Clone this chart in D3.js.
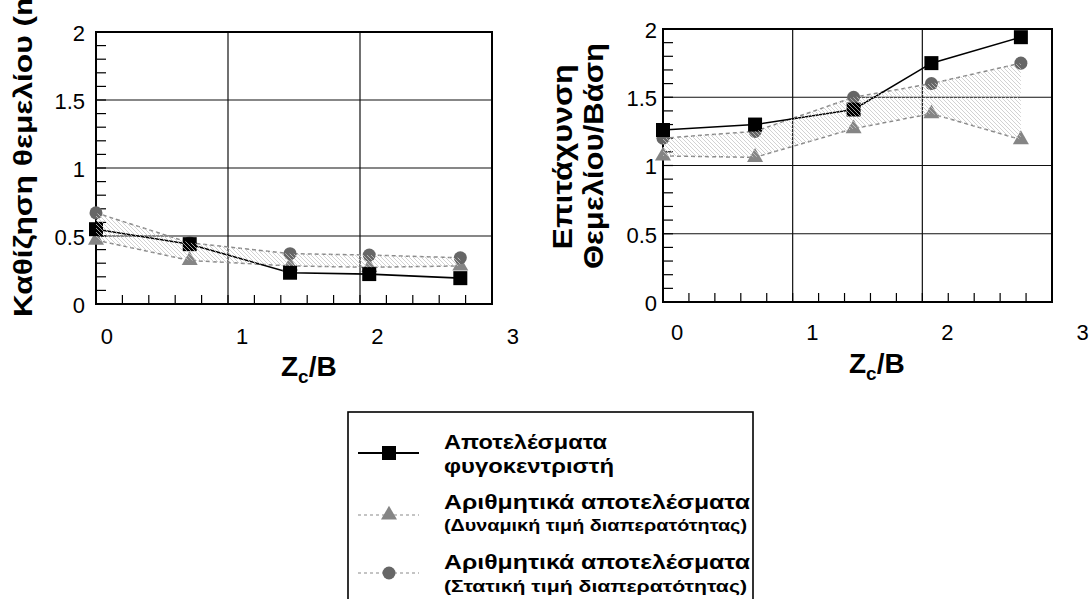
<!DOCTYPE html>
<html>
<head>
<meta charset="utf-8">
<script src="https://cdn.jsdelivr.net/npm/d3@7"></script>
<style>
  html, body { margin: 0; padding: 0; background: #fff; }
  svg { display: block; font-family: "Liberation Sans", Arial, sans-serif; }
</style>
</head>
<body>
<svg id="chart" width="1089" height="599"></svg>
<script>
// Normalised depth Zc/B of each test point
const depthRatio = [0, 0.71, 1.47, 2.07, 2.76];

// Foundation settlement (m)
const settleCentrifuge = [0.55, 0.44, 0.23, 0.22, 0.19];
const settleDynamic    = [0.47, 0.32, 0.28, 0.27, 0.28];
const settleStatic     = [0.67, 0.45, 0.37, 0.36, 0.34];

// Acceleration ratio foundation / base
const accelCentrifuge = [1.26, 1.30, 1.41, 1.75, 1.94];
const accelDynamic    = [1.07, 1.06, 1.27, 1.38, 1.19];
const accelStatic     = [1.20, 1.25, 1.50, 1.60, 1.75];

const xTickLabels = [0, 1, 2, 3];
const yTickLabels = [0, 0.5, 1, 1.5, 2];

const legendEntries = [
  { kind: "centrifuge", lines: ["Αποτελέσματα", "φυγοκεντριστή"] },
  { kind: "dynamic", lines: ["Αριθμητικά αποτελέσματα", "(Δυναμική τιμή διαπερατότητας)"] },
  { kind: "static", lines: ["Αριθμητικά αποτελέσματα", "(Στατική τιμή διαπερατότητας)"] }
];

// legend layout: sample line y, text baselines, font sizes and stretched widths
const legendLayout = [
  { sampleY: 453, base: [449, 473], size: [21, 21], width: [163, 170] },
  { sampleY: 515, base: [509, 531], size: [21, 16], width: [306, 303] },
  { sampleY: 573, base: [569, 592], size: [21, 16], width: [306, 303] }
];

const svg = d3.select("#chart");
const defs = svg.append("defs");

// light diagonal hatching for the band between the two numerical series
const pat = defs.append("pattern")
  .attr("id", "hatch")
  .attr("patternUnits", "userSpaceOnUse")
  .attr("width", 4).attr("height", 4);
pat.append("path")
  .attr("d", "M-1,-1 L5,5 M-1,3 L1,5 M3,-1 L5,1")
  .attr("stroke", "#c6c6c6").attr("stroke-width", 0.8);

const styles = {
  centrifuge: { symbol: d3.symbolSquare, size: 196, fill: "#000", line: "#000", dash: null, width: 1.6 },
  dynamic:    { symbol: d3.symbolTriangle, size: 111, fill: "#858585", line: "#8a8a8a", dash: "4,3", width: 1.5 },
  static:     { symbol: d3.symbolCircle, size: 133, fill: "#666", line: "#8a8a8a", dash: "4,3", width: 1.5 }
};

function drawPanel(cfg) {
  const x = d3.scaleLinear().domain([0, 3]).range([cfg.left, cfg.right]);
  const y = d3.scaleLinear().domain([0, 2]).range([cfg.bottom, cfg.top]);
  const xLab = d3.scaleLinear().domain([0, 3]).range(cfg.xLabelRange);
  const g = svg.append("g");

  // major grid
  g.append("g").selectAll("line").data([1, 2]).join("line")
    .attr("x1", d => x(d)).attr("x2", d => x(d))
    .attr("y1", cfg.top).attr("y2", cfg.bottom)
    .attr("stroke", "#111").attr("stroke-width", 1.2);
  g.append("g").selectAll("line").data([0.5, 1, 1.5]).join("line")
    .attr("x1", cfg.left).attr("x2", cfg.right)
    .attr("y1", d => y(d)).attr("y2", d => y(d))
    .attr("stroke", "#111").attr("stroke-width", 1.2);

  // inner minor ticks
  g.append("g").selectAll("line").data(d3.range(1, 20)).join("line")
    .attr("x1", cfg.left).attr("x2", cfg.left + 10)
    .attr("y1", d => y(d / 10)).attr("y2", d => y(d / 10))
    .attr("stroke", "#000").attr("stroke-width", 1.2);
  g.append("g").selectAll("line").data(d3.range(1, 15)).join("line")
    .attr("x1", d => x(d / 5)).attr("x2", d => x(d / 5))
    .attr("y1", cfg.bottom).attr("y2", cfg.bottom - 9)
    .attr("stroke", "#000").attr("stroke-width", 1.2);

  // frame
  g.append("rect")
    .attr("x", cfg.left).attr("y", cfg.top)
    .attr("width", cfg.right - cfg.left).attr("height", cfg.bottom - cfg.top)
    .attr("fill", "none").attr("stroke", "#000").attr("stroke-width", 2);

  // tick labels
  const yAxis = g.append("g").attr("transform", `translate(${cfg.left},0)`)
    .call(d3.axisLeft(y).tickValues(yTickLabels).tickSize(0).tickPadding(cfg.yPad)
      .tickFormat(d3.format("~g")));
  yAxis.select(".domain").remove();
  yAxis.selectAll("text").attr("font-size", 22).attr("fill", "#000")
    .attr("font-family", "Liberation Sans, Arial, sans-serif").attr("dy", "0.38em");

  const xAxis = g.append("g").attr("transform", `translate(0,${cfg.xLabelY})`)
    .call(d3.axisBottom(xLab).tickValues(xTickLabels).tickSize(0).tickPadding(0)
      .tickFormat(d3.format("d")));
  xAxis.select(".domain").remove();
  xAxis.selectAll("text").attr("font-size", 22).attr("fill", "#000")
    .attr("font-family", "Liberation Sans, Arial, sans-serif").attr("dy", 0).attr("y", 0);

  const pts = (vals) => depthRatio.map((d, i) => [d, vals[i]]);
  const line = d3.line().x(d => x(d[0])).y(d => y(d[1]));
  const series = [["dynamic", cfg.dynamic], ["static", cfg.static], ["centrifuge", cfg.centrifuge]];

  // connecting lines
  series.forEach(([k, vals]) => {
    const s = styles[k];
    g.append("path").datum(pts(vals))
      .attr("d", line).attr("fill", "none")
      .attr("stroke", s.line).attr("stroke-width", s.width)
      .attr("stroke-dasharray", s.dash);
  });

  // markers
  series.forEach(([k, vals]) => {
    const s = styles[k];
    g.append("g").selectAll("path").data(pts(vals)).join("path")
      .attr("transform", d => `translate(${x(d[0])},${y(d[1])})`)
      .attr("d", d3.symbol().type(s.symbol).size(s.size)())
      .attr("fill", s.fill);
  });

  // hatched band between dynamic and static numerical results
  const band = d3.area()
    .x(d => x(d.x)).y0(d => y(d.lo)).y1(d => y(d.hi));
  g.append("path")
    .datum(depthRatio.map((d, i) => ({ x: d, lo: cfg.dynamic[i], hi: cfg.static[i] })))
    .attr("d", band).attr("fill", "url(#hatch)");

  // x title Zc/B
  const t = g.append("text")
    .attr("x", cfg.xTitle[0]).attr("y", cfg.xTitle[1])
    .attr("font-size", 28).attr("font-weight", "bold").attr("fill", "#000");
  t.append("tspan").text("Z");
  t.append("tspan").attr("font-size", 19).attr("dy", 7).text("c");
  t.append("tspan").attr("dy", -7).text("/B");

  return g;
}

drawPanel({
  left: 96, right: 492, top: 32, bottom: 304,
  xLabelRange: [106.3, 512.3], xLabelY: 344, yPad: 11,
  centrifuge: settleCentrifuge, dynamic: settleDynamic, static: settleStatic,
  xTitle: [281, 376]
});

drawPanel({
  left: 663, right: 1052, top: 29, bottom: 302,
  xLabelRange: [676.7, 1082], xLabelY: 340, yPad: 6,
  centrifuge: accelCentrifuge, dynamic: accelDynamic, static: accelStatic,
  xTitle: [849, 373]
});

// y titles (Greek text set slightly wide)
svg.append("text")
  .attr("transform", "translate(32,317) rotate(-90) scale(1.22,1)")
  .attr("text-anchor", "start")
  .attr("font-size", 26).attr("font-weight", "bold").attr("fill", "#000")
  .text("Καθίζηση θεμελίου (m)");

svg.append("text")
  .attr("transform", "translate(572,157) rotate(-90) scale(1.15,1)")
  .attr("text-anchor", "middle")
  .attr("font-size", 28).attr("font-weight", "bold").attr("fill", "#000")
  .text("Επιτάχυνση");
svg.append("text")
  .attr("transform", "translate(603,156) rotate(-90) scale(1.11,1)")
  .attr("text-anchor", "middle")
  .attr("font-size", 28).attr("font-weight", "bold").attr("fill", "#000")
  .text("Θεμελίου/Βάση");

// legend
const lg = svg.append("g");
lg.append("rect")
  .attr("x", 348).attr("y", 412).attr("width", 405).attr("height", 220)
  .attr("fill", "#fff").attr("stroke", "#000").attr("stroke-width", 1.6);

legendEntries.forEach((e, i) => {
  const s = styles[e.kind];
  const r = legendLayout[i];
  lg.append("line")
    .attr("x1", 358).attr("x2", 419).attr("y1", r.sampleY).attr("y2", r.sampleY)
    .attr("stroke", s.line).attr("stroke-width", e.kind === "centrifuge" ? 1.8 : 1.2)
    .attr("stroke-dasharray", e.kind === "centrifuge" ? null : "3,3");
  lg.append("path")
    .attr("transform", `translate(389,${r.sampleY})`)
    .attr("d", d3.symbol().type(s.symbol).size(s.size)())
    .attr("fill", s.fill);
  e.lines.forEach((txt, j) => {
    lg.append("text")
      .attr("x", 444).attr("y", r.base[j])
      .attr("font-size", r.size[j])
      .attr("textLength", r.width[j]).attr("lengthAdjust", "spacingAndGlyphs")
      .attr("font-weight", "bold").attr("fill", "#000")
      .text(txt);
  });
});
</script>
</body>
</html>
